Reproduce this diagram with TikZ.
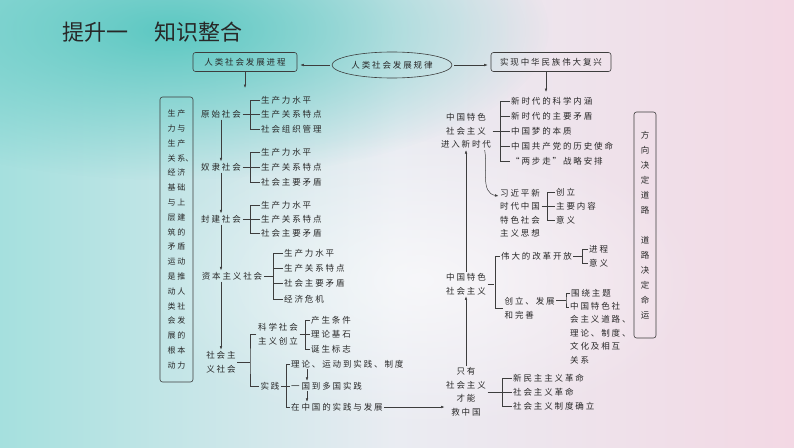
\documentclass[tikz,border=0pt]{standalone}
\usepackage{fontspec}
\newfontfamily\zw{Noto Sans CJK SC}[LetterSpace=22]
\newfontfamily\bt{Noto Sans CJK SC}
\usetikzlibrary{arrows.meta, shapes.geometric, fadings}
\tikzfading[name=softblob, inner color=transparent!0, outer color=transparent!100]
\definecolor{bgL}{RGB}{165,224,222}
\definecolor{bgM}{RGB}{234,236,242}
\definecolor{bgR}{RGB}{243,216,228}
\definecolor{bgT}{RGB}{92,200,194}
\definecolor{ink}{RGB}{40,40,40}

\begin{document}
\begin{tikzpicture}[x=1pt, y=-1pt,
    ln/.style={draw=ink!90, line width=0.5pt},
    arr/.style={ln, -{Latex[length=3.5pt,width=2.6pt]}},
    bx/.style={draw=ink!90, line width=0.6pt, rounded corners=2.5pt},
    lb/.style={font=\zw\fontsize{8.5}{13.5}\selectfont, text=ink, align=center, inner sep=1.5pt},
    lf/.style={lb, anchor=west, inner sep=1pt},
]
\useasboundingbox (0,0) rectangle (794,447);
% background
\begin{scope}
\clip (0,0) rectangle (794,447);
\shade[left color=bgL, right color=bgR, middle color=bgM] (0,0) rectangle (794,447);
\fill[bgT, path fading=softblob] (170,30) ellipse [x radius=380pt, y radius=150pt];
\fill[white, opacity=.6, path fading=softblob] (420,280) ellipse [x radius=280pt, y radius=150pt];
\end{scope}

\node[font=\bt\fontsize{22}{22}\selectfont, text=ink, anchor=west, inner sep=0] (title) at (62,32) {提升一\hspace{26pt}知识整合};

% top row
\node[bx, lb, minimum width=104pt, minimum height=19pt] (jc) at (245,62) {人类社会发展进程};
\node[lb, draw=ink!90, line width=.6pt, ellipse, minimum width=120pt, minimum height=26pt, inner sep=0] (gl) at (392,65) {人类社会发展规律};
\node[bx, lb, minimum width=120pt, minimum height=19pt] (fx) at (551,62) {实现中华民族伟大复兴};
\draw[arr, shorten <=2pt, shorten >=3pt] (gl.west) -- (gl.west -| jc.east);
\draw[arr, shorten <=2pt, shorten >=3pt] (gl.east) -- (gl.east -| fx.west);
\coordinate (jcd) at (245,88);
\coordinate (fxd) at (546,92);
\draw[arr] (jc.south) -- (jcd);
\draw[arr] (fxd |- fx.south) -- (fxd);

% left box
\node[bx, minimum width=33pt, minimum height=285pt, font=\zw\fontsize{8}{14.8}\selectfont,
      text=ink, align=left, inner sep=0] (dl) at (176.5,239.5)
  {生产\\力与\\生产\\关系\rlap{、}\\经济\\基础\\与上\\层建\\筑的\\矛盾\\运动\\是推\\动人\\类社\\会发\\展的\\根本\\动力};

% left chain
\node[lb] (ys) at (221,114) {原始社会};
\node[lb] (nl) at (221,167) {奴隶社会};
\node[lb] (fj) at (221,219) {封建社会};
\node[lb] (zb) at (232,276) {资本主义社会};
\node[lb] (sh) at (221,362) {社会主\\义社会};
\draw[arr] (ys) -- (nl);
\draw[arr] (nl) -- (fj);
\draw[arr] (fj.south) -- (fj.south |- zb.north);
\draw[arr] (zb.south -| sh.north) -- (sh.north);

\node[lf] (ys1) at (260,100) {生产力水平};
\node[lf] (ys2) at (260,114) {生产关系特点};
\node[lf] (ys3) at (260,129) {社会组织管理};
\draw[ln] (ys1.west) -- ++(-10,0) |- (ys3.west);
\draw[ln] (ys.east) -- (ys2.west);

\node[lf] (nl1) at (260,152) {生产力水平};
\node[lf] (nl2) at (260,167) {生产关系特点};
\node[lf] (nl3) at (260,182) {社会主要矛盾};
\draw[ln] (nl1.west) -- ++(-10,0) |- (nl3.west);
\draw[ln] (nl.east) -- (nl2.west);

\node[lf] (fj1) at (260,205) {生产力水平};
\node[lf] (fj2) at (260,219) {生产关系特点};
\node[lf] (fj3) at (260,233) {社会主要矛盾};
\draw[ln] (fj1.west) -- ++(-10,0) |- (fj3.west);
\draw[ln] (fj.east) -- (fj2.west);

\node[lf] (zb1) at (283,253) {生产力水平};
\node[lf] (zb2) at (283,268) {生产关系特点};
\node[lf] (zb3) at (283,283) {社会主要矛盾};
\node[lf] (zb4) at (283,299) {经济危机};
\draw[ln] (zb1.west) -- ++(-10,0) |- (zb4.west);
\foreach \i in {2,3} \draw[ln] (zb\i.west) -- ++(-10,0);
\draw[ln] (zb.east) -- ([xshift=-10pt]zb1.west |- zb.east);

% socialism
\node[lb] (kx) at (278,334) {科学社会\\主义创立};
\node[lb] (sj) at (270,386) {实践};
\coordinate (shb) at (250,362);
\draw[ln] (sh.east) -- (sh.east -| shb);
\draw[ln] (kx.west) -| (shb) |- (sj.west);

\node[lf] (kx1) at (310,320) {产生条件};
\node[lf] (kx2) at (310,334) {理论基石};
\node[lf] (kx3) at (310,349) {诞生标志};
\draw[ln] (kx1.west) -- ++(-5,0) |- (kx3.west);
\draw[ln] (kx.east) -- (kx2.west);

\node[lf] (sj1) at (290,364) {理论、运动到实践、制度};
\node[lf] (sj2) at (290,386) {一国到多国实践};
\node[lf] (sj3) at (290,407) {在中国的实践与发展};
\draw[ln] (sj1.west) -- ++(-4,0) |- (sj3.west);
\draw[ln] (sj.east) -- (sj2.west);
\draw[arr] ([xshift=17pt]sj1.south west) -- ([xshift=17pt]sj2.north west);
\draw[arr] ([xshift=17pt]sj2.south west) -- ([xshift=17pt]sj3.north west);

% right column
\node[lb] (zg) at (466,392) {只有\\社会主义\\才能\\救中国};
\node[lb] (ts) at (466,284) {中国特色\\社会主义};
\node[lb] (jr) at (466,131) {中国特色\\社会主义\\进入新时代};
\draw[arr] (sj3.east) -- (sj3.east -| zg.west);
\draw[arr] (zg) -- (ts);
\draw[arr] (ts) -- (jr);

\node[lf] (zg1) at (512,378) {新民主主义革命};
\node[lf] (zg2) at (512,392) {社会主义革命};
\node[lf] (zg3) at (512,406) {社会主义制度确立};
\draw[ln] (zg1.west) -- ++(-10,0) |- (zg3.west);
\draw[ln] (zg.east) -- (zg2.west);

\node[lf] (wd) at (500,256) {伟大的改革开放};
\node[lb, anchor=west, align=left] (cl) at (503,308) {创立、发展\\和完善};
\draw[ln] (wd.west) -- ++(-5,0) |- (cl.west);
\draw[ln] (ts.east) -- ++(6,0);

\node[lf] (wd1) at (588,249) {进程};
\node[lf] (wd2) at (588,263) {意义};
\draw[ln] (wd1.west) -- ++(-6,0) |- (wd2.west);
\draw[ln] (wd.east) -- ([xshift=-6pt]wd1.west |- wd.east);

\node[lf] (wt) at (570,293) {围绕主题};
\node[lb, anchor=north west, align=left, inner sep=1pt] (ml) at (569,301)
  {中国特色社\\会主义道路、\\理论、制度、\\文化及相互\\关系};
\coordinate (clb) at (566,300);
\coordinate (mlf) at ([yshift=-6pt]ml.north west);
\draw[ln] (cl.east |- clb) -- (clb);
\draw[ln] (wt.west) -| (clb) |- (mlf);

\node[lb] (ms) at (520,213) {习近平新\\时代中国\\特色社会\\主义思想};
\node[lf] (ms1) at (555,192) {创立};
\node[lf] (ms2) at (555,206) {主要内容};
\node[lf] (ms3) at (555,220) {意义};
\draw[ln] (ms1.west) -- ++(-8,0) |- (ms3.west);
\draw[ln] (ms2.west -| ms.east) -- (ms2.west);
\draw[arr] ([xshift=-8pt]jr.south east) to[out=-80, in=170] ([yshift=17pt]ms.west);

\node[lf] (jr1) at (510,101) {新时代的科学内涵};
\node[lf] (jr2) at (510,116) {新时代的主要矛盾};
\node[lf] (jr3) at (510,131) {中国梦的本质};
\node[lf] (jr4) at (510,146) {中国共产党的历史使命};
\node[lf] (jr5) at (510,161) {“两步走”战略安排};
\draw[ln] (jr1.west) -- ++(-10,0) |- (jr5.west);
\foreach \i in {2,4} \draw[ln] (jr\i.west) -- ++(-10,0);
\draw[ln] (jr.east) -- (jr3.west);

% right box
\node[bx, minimum width=22pt, minimum height=226pt, font=\zw\fontsize{8.5}{15}\selectfont,
      text=ink, align=center, inner sep=0] (fd) at (645,225)
  {方\\向\\决\\定\\道\\路\\[15pt]道\\路\\决\\定\\命\\运};
\end{tikzpicture}
\end{document}
